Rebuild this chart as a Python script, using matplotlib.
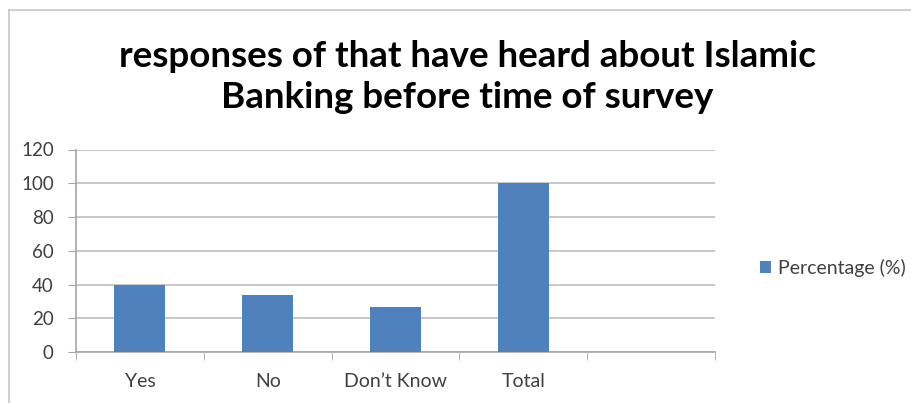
import matplotlib
matplotlib.use('Agg')
import matplotlib.pyplot as plt
from matplotlib.lines import Line2D

plt.rcParams['font.family'] = ['Lato', 'DejaVu Sans']

categories = ['Yes', 'No', 'Don\u2019t Know', 'Total', '']
percentages = [40, 33.5, 26.5, 100, 0]
yticks = [0, 20, 40, 60, 80, 100, 120]
series_name = 'Percentage (%)'
title = 'responses of that have heard about Islamic\nBanking before time of survey'

bar_color = '#4f81bd'
grid_color = '#bfbfbf'
text_color = '#404040'

W, H = 911, 403
fig = plt.figure(figsize=(W / 100, H / 100), dpi=100)
fig.patch.set_facecolor('white')

# chart frame: only top and left edges show
fig.add_artist(Line2D([9 / W, 1], [1 - 10 / H, 1 - 10 / H], color='#c8c8c8', lw=1.2))
fig.add_artist(Line2D([9 / W, 9 / W], [0, 1 - 10 / H], color='#c8c8c8', lw=1.2))

ax = fig.add_axes([76 / W, 1 - 352 / H, (715 - 76) / W, (352 - 149.5) / H])
x = list(range(len(categories)))
ax.bar(x, percentages, width=0.4, color=bar_color, label=series_name, zorder=3)

ax.set_xlim(-0.5, len(categories) - 0.5)
ax.set_ylim(0, 120)
ax.set_yticks(yticks)
ax.set_yticklabels([str(v) for v in yticks], fontsize=13.5, color=text_color)
ax.set_xticks(x)
ax.set_xticklabels(categories, fontsize=14, color=text_color)
ax.set_xticks([i + 0.5 for i in range(-1, len(categories))], minor=True)
ax.tick_params(axis='x', which='major', length=0, pad=15)
ax.tick_params(axis='x', which='minor', length=6, color='#a6a6a6', direction='out')
ax.tick_params(axis='y', length=6, color='#a6a6a6', direction='out', pad=10)

ax.yaxis.grid(True, color=grid_color, lw=1.2, zorder=0)
for side in ['top', 'right']:
    ax.spines[side].set_visible(False)
for side in ['left', 'bottom']:
    ax.spines[side].set_color('#a6a6a6')
    ax.spines[side].set_linewidth(1.2)

fig.text(467 / W, 1 - 77 / H, title, ha='center', va='center', fontsize=26.5,
         fontweight='bold', color='black', linespacing=1.3)

ax.legend(loc='center left', bbox_to_anchor=(742 / W, 1 - 268 / H),
          bbox_transform=fig.transFigure, frameon=False, fontsize=14,
          handlelength=0.6, handleheight=0.6, handletextpad=0.35,
          labelcolor=text_color)

fig.savefig('out.png', dpi=100)
